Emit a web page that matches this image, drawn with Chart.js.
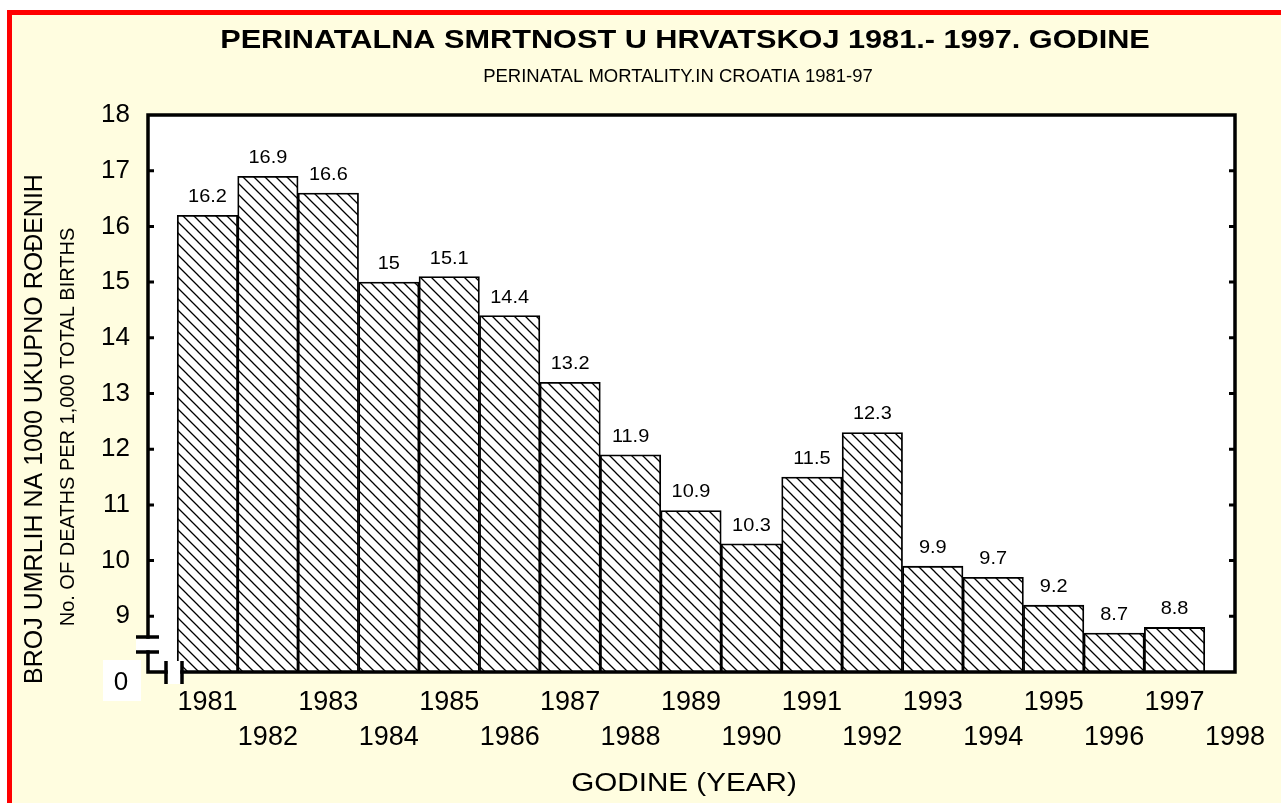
<!DOCTYPE html>
<html>
<head>
<meta charset="utf-8">
<title>Perinatalna smrtnost</title>
<script src="https://cdn.jsdelivr.net/npm/chart.js@4.4.1/dist/chart.umd.min.js"></script>
<style>
    html, body { margin: 0; padding: 0; background: #fff; }
    #wrap { width: 1281px; height: 803px; }
</style>
</head>
<body>
<div id="wrap"><canvas id="mainChart" width="1281" height="803"></canvas></div>
<script>
// --- Data ---
const years = [1981, 1982, 1983, 1984, 1985, 1986, 1987, 1988, 1989, 1990, 1991, 1992, 1993, 1994, 1995, 1996, 1997];
const rates = [16.2, 16.9, 16.6, 15, 15.1, 14.4, 13.2, 11.9, 10.9, 10.3, 11.5, 12.3, 9.9, 9.7, 9.2, 8.7, 8.8];
const xTickYears = [1981, 1982, 1983, 1984, 1985, 1986, 1987, 1988, 1989, 1990, 1991, 1992, 1993, 1994, 1995, 1996, 1997, 1998];
const yTickValues = [9, 10, 11, 12, 13, 14, 15, 16, 17, 18];
const breakLabel = '0';

const titleText = 'PERINATALNA SMRTNOST U HRVATSKOJ 1981.- 1997. GODINE';
const subtitleText = 'PERINATAL MORTALITY.IN CROATIA 1981-97';
const yTitleMain = 'BROJ UMRLIH NA 1000 UKUPNO ROĐENIH';
const yTitleSub = 'No. OF DEATHS PER 1,000 TOTAL BIRTHS';
const xTitleText = 'GODINE (YEAR)';

// --- Style ---
const FONT = '"Liberation Sans", Arial, Helvetica, sans-serif';
const CREAM = '#FFFDE0';
const RED = '#FF0000';

const canvas = document.getElementById('mainChart');
const ctx = canvas.getContext('2d');

function makeHatch() {
    const size = 11;
    const tile = document.createElement('canvas');
    tile.width = size;
    tile.height = size;
    const g = tile.getContext('2d');
    g.fillStyle = '#fff';
    g.fillRect(0, 0, size, size);
    g.strokeStyle = '#000';
    g.lineWidth = 1.3;
    g.beginPath();
    g.moveTo(-1, -1); g.lineTo(size + 1, size + 1);
    g.moveTo(-1, size - 1); g.lineTo(1, size + 1);
    g.moveTo(size - 1, -1); g.lineTo(size + 1, 1);
    g.stroke();
    return ctx.createPattern(tile, 'repeat');
}

// text stretched a bit horizontally, like the original print
function wideText(c, text, x, y, font, sx) {
    c.save();
    c.font = font;
    c.translate(x, y);
    c.scale(sx, 1);
    c.fillText(text, 0, 0);
    c.restore();
}

// --- Plugins ---
const backgroundPlugin = {
    id: 'background',
    beforeDraw(chart) {
        const c = chart.ctx;
        const a = chart.chartArea;
        c.save();
        c.fillStyle = '#fff';
        c.fillRect(0, 0, chart.width, chart.height);
        c.fillStyle = RED;
        c.fillRect(7, 10, chart.width, chart.height);
        c.fillStyle = CREAM;
        c.fillRect(12, 15, chart.width, chart.height);
        c.fillStyle = '#fff';
        c.fillRect(a.left, a.top, a.right - a.left, a.bottom - a.top);
        c.restore();
    }
};

const framePlugin = {
    id: 'frame',
    afterDatasetsDraw(chart) {
        const c = chart.ctx;
        const a = chart.chartArea;
        const yScale = chart.scales.y;
        const L = a.left + 1, R = a.right, T = a.top, B = a.bottom;
        c.save();

        // white gaps of the axis break
        c.fillStyle = '#fff';
        c.fillRect(L - 12, B - 33, 24, 13);
        c.fillRect(L + 20, B - 11, 13, 23);

        c.strokeStyle = '#000';
        c.lineWidth = 3.5;
        c.lineCap = 'square';
        c.beginPath();
        c.moveTo(L, B - 35); c.lineTo(L, T); c.lineTo(R, T); c.lineTo(R, B); c.lineTo(L + 34, B);
        c.moveTo(L + 18, B); c.lineTo(L, B); c.lineTo(L, B - 20);
        c.stroke();

        c.lineCap = 'butt';
        c.beginPath();
        c.moveTo(L - 12, B - 35); c.lineTo(L + 11, B - 35);
        c.moveTo(L - 12, B - 20); c.lineTo(L + 11, B - 20);
        c.moveTo(L + 18, B - 11); c.lineTo(L + 18, B + 12);
        c.moveTo(L + 34, B - 11); c.lineTo(L + 34, B + 12);
        c.stroke();

        // inward ticks
        c.lineWidth = 3;
        c.beginPath();
        yTickValues.forEach(v => {
            if (v >= 18) return;
            const py = yScale.getPixelForValue(v);
            c.moveTo(L, py); c.lineTo(L + 6, py);
            c.moveTo(R - 6, py); c.lineTo(R, py);
        });
        c.stroke();

        // break label "0"
        c.fillStyle = '#fff';
        c.fillRect(L - 45, B - 12, 38, 41);
        c.fillStyle = '#000';
        c.font = '26px ' + FONT;
        c.textAlign = 'center';
        c.textBaseline = 'alphabetic';
        c.fillText(breakLabel, L - 27, B + 18);

        // value labels
        c.font = '19px ' + FONT;
        const meta = chart.getDatasetMeta(0);
        meta.data.forEach((bar, i) => {
            wideText(c, String(rates[i]), bar.x, bar.y - 13, '19px ' + FONT, 1.05);
        });

        // titles
        wideText(c, titleText, 685, 48, 'bold 26px ' + FONT, 1.18);
        wideText(c, subtitleText, 678, 82, '18.5px ' + FONT, 1);
        wideText(c, xTitleText, 684, 791, '26px ' + FONT, 1.14);

        c.save();
        c.translate(42, 429);
        c.rotate(-Math.PI / 2);
        c.font = '25px ' + FONT;
        c.fillText(yTitleMain, 0, 0);
        c.restore();
        c.save();
        c.translate(74, 427);
        c.rotate(-Math.PI / 2);
        c.font = '20px ' + FONT;
        c.fillText(yTitleSub, 0, 0);
        c.restore();

        c.restore();
    }
};

// --- Chart ---
const mainChart = new Chart(ctx, {
    type: 'bar',
    data: {
        datasets: [{
            data: years.map((yr, i) => ({ x: yr, y: rates[i] })),
            backgroundColor: makeHatch(),
            borderColor: '#000',
            borderWidth: 1.8,
            barPercentage: 1,
            categoryPercentage: 1
        }]
    },
    options: {
        responsive: false,
        animation: false,
        devicePixelRatio: 1,
        layout: { padding: { left: 47, right: 46, top: 115, bottom: 51 } },
        plugins: {
            legend: { display: false },
            tooltip: { enabled: false },
            title: { display: false }
        },
        scales: {
            x: {
                type: 'linear',
                min: 1980,
                max: 1998,
                offset: false,
                grid: { display: false, drawTicks: false, offset: false },
                border: { display: false },
                afterBuildTicks: s => { s.ticks = xTickYears.map(v => ({ value: v })); },
                afterFit: s => { s.height = 80; },
                ticks: {
                    autoSkip: false,
                    maxRotation: 0,
                    padding: 13,
                    color: '#000',
                    font: { family: FONT, size: 27, lineHeight: 1.3 },
                    callback: v => (v % 2 === 1 ? [String(v)] : ['', String(v)])
                }
            },
            y: {
                min: 8,
                max: 18,
                grid: { display: false, drawTicks: false },
                border: { display: false },
                afterBuildTicks: s => { s.ticks = yTickValues.map(v => ({ value: v })); },
                afterFit: s => { s.width = 100; },
                ticks: {
                    padding: 17,
                    color: '#000',
                    font: { family: FONT, size: 26 },
                    callback: v => String(v)
                }
            }
        }
    },
    plugins: [backgroundPlugin, framePlugin]
});
</script>
</body>
</html>
